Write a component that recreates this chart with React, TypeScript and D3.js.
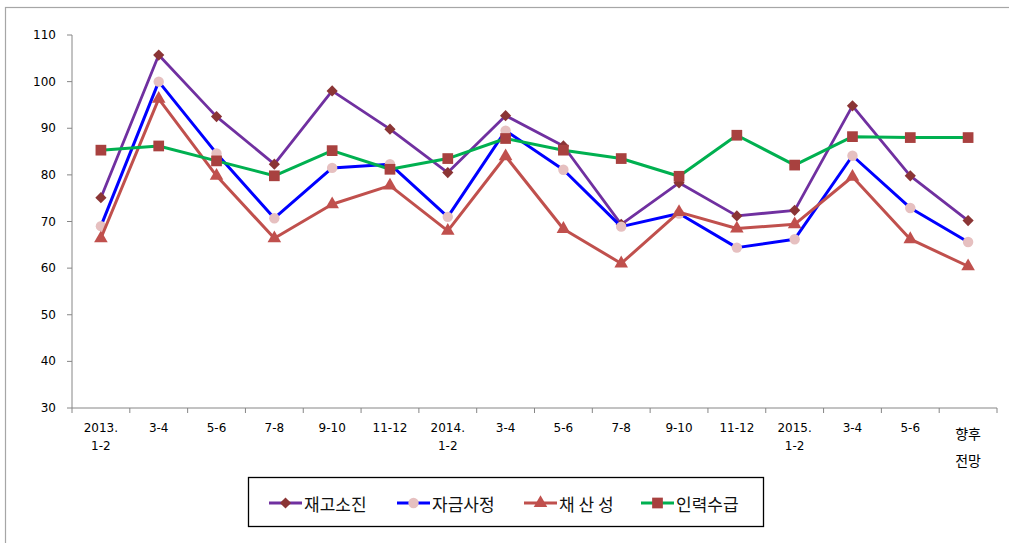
import React from "react";
import * as d3 from "d3";

const categories = ["2013.\n1-2", "3-4", "5-6", "7-8", "9-10", "11-12", "2014.\n1-2", "3-4", "5-6", "7-8", "9-10", "11-12", "2015.\n1-2", "3-4", "5-6", "향후\n전망"];
const yTicks = [30, 40, 50, 60, 70, 80, 90, 100, 110];

const inventory = [75.1, 105.7, 92.5, 82.3, 98.0, 89.8, 80.5, 92.7, 86.2, 69.4, 78.3, 71.2, 72.4, 94.8, 79.8, 70.2];
const funding = [69.0, 100.0, 84.6, 70.7, 81.5, 82.3, 71.0, 89.5, 81.1, 68.9, 71.7, 64.4, 66.2, 84.1, 72.9, 65.6];
const profit = [66.4, 96.3, 79.8, 66.4, 73.7, 77.7, 68.0, 84.0, 68.4, 61.0, 72.0, 68.5, 69.4, 79.6, 66.2, 60.4];
const labor = [85.3, 86.2, 83.0, 79.8, 85.2, 81.2, 83.5, 87.8, 85.3, 83.5, 79.7, 88.5, 82.1, 88.2, 88.0, 88.0];

const seriesNames = ["재고소진", "자금사정", "채 산 성", "인력수급"];

type Marker = "diamond" | "circle" | "triangle" | "square";
const series: { name: string; values: number[]; line: string; marker: Marker; fill: string; lw: number }[] = [
  { name: seriesNames[0], values: inventory, line: "#7030A0", marker: "diamond", fill: "#8B3535", lw: 2.8 },
  { name: seriesNames[1], values: funding, line: "#0000FF", marker: "circle", fill: "#E6C0C0", lw: 3 },
  { name: seriesNames[2], values: profit, line: "#C0504D", marker: "triangle", fill: "#C0504D", lw: 3 },
  { name: seriesNames[3], values: labor, line: "#00B050", marker: "square", fill: "#A8413F", lw: 3 },
];

const symbolType = (m: Marker) =>
  m === "diamond" ? d3.symbolDiamond2 : m === "circle" ? d3.symbolCircle : m === "triangle" ? d3.symbolTriangle : d3.symbolSquare;
const symbolSize = (m: Marker) => (m === "diamond" ? 80 : m === "circle" ? 85 : m === "triangle" ? 80 : 115);

const W = 1009;
const H = 543;
const left = 72;
const right = 997;
const top = 35;
const bottom = 408;

export default function App() {
  const x = d3.scaleBand<string>().domain(categories.map((c, i) => String(i))).range([left, right]).padding(0);
  const bw = x.bandwidth();
  const cx = (i: number) => (x(String(i)) as number) + bw / 2;
  const y = d3.scaleLinear().domain([30, 110]).range([bottom, top]);
  const line = d3
    .line<number>()
    .x((_, i) => cx(i))
    .y((v) => y(v));
  const tickEdges = d3.range(categories.length + 1).map((i) => left + i * bw);

  const legendItems = [
    { x1: 269, x2: 302, tx: 304 },
    { x1: 397, x2: 430, tx: 432 },
    { x1: 524, x2: 557, tx: 559 },
    { x1: 641, x2: 674, tx: 676 },
  ];

  return (
    <svg width={W} height={H} style={{ position: "absolute", left: 0, top: 0, background: "#fff" }}>
      <rect x={5.5} y={7.5} width={1010} height={540} fill="#fff" stroke="#A6A6A6" strokeWidth={1.2} />
      {/* axes */}
      <line x1={left} x2={left} y1={top} y2={bottom} stroke="#868686" strokeWidth={1} />
      <line x1={left} x2={right} y1={bottom} y2={bottom} stroke="#868686" strokeWidth={1} />
      {yTicks.map((t) => (
        <g key={t}>
          <line x1={left - 5} x2={left} y1={y(t)} y2={y(t)} stroke="#868686" />
          <text
            x={56}
            y={y(t)}
            textAnchor="end"
            dominantBaseline="central"
            fontFamily="DejaVu Sans, Verdana, sans-serif"
            fontSize={12}
            fill="#000"
          >
            {t}
          </text>
        </g>
      ))}
      {tickEdges.map((tx, i) => (
        <line key={i} x1={tx} x2={tx} y1={bottom} y2={bottom + 5} stroke="#868686" />
      ))}
      {categories.map((c, i) => {
        const lines = c.split("\n");
        const korean = /[가-힣]/.test(c);
        return (
          <text
            key={i}
            textAnchor="middle"
            fontFamily={korean ? "Noto Sans CJK KR, sans-serif" : "DejaVu Sans, Verdana, sans-serif"}
            fontSize={korean ? 14 : 12}
            fill="#000"
          >
            {lines.map((l, j) => (
              <tspan key={j} x={cx(i)} y={(korean ? 433 : 428) + j * (korean ? 27 : 18)} dominantBaseline="central">
                {l}
              </tspan>
            ))}
          </text>
        );
      })}
      {/* series */}
      {series.map((s) => (
        <g key={s.name}>
          <path d={line(s.values) || ""} fill="none" stroke={s.line} strokeWidth={s.lw} strokeLinejoin="round" />
          {s.values.map((v, i) => (
            <path
              key={i}
              transform={`translate(${cx(i)},${y(v)})`}
              d={d3.symbol().type(symbolType(s.marker)).size(symbolSize(s.marker))() || ""}
              fill={s.fill}
            />
          ))}
        </g>
      ))}
      {/* legend */}
      <rect x={248.5} y={477.5} width={515} height={49} fill="#fff" stroke="#000" strokeWidth={1.3} />
      {series.map((s, i) => {
        const it = legendItems[i];
        const ly = 503;
        return (
          <g key={s.name}>
            <line x1={it.x1} x2={it.x2} y1={ly} y2={ly} stroke={s.line} strokeWidth={s.lw} />
            <path
              transform={`translate(${(it.x1 + it.x2) / 2},${ly})`}
              d={d3.symbol().type(symbolType(s.marker)).size(symbolSize(s.marker))() || ""}
              fill={s.fill}
            />
            <text
              x={it.tx}
              y={ly}
              dominantBaseline="central"
              fontFamily="Noto Sans CJK KR, sans-serif"
              fontSize={17}
              fill="#111"
            >
              {s.name}
            </text>
          </g>
        );
      })}
    </svg>
  );
}
